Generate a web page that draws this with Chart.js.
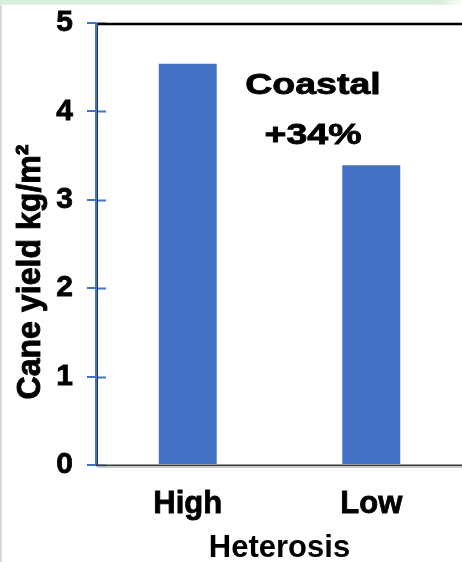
<!DOCTYPE html>
<html>
<head>
<meta charset="utf-8">
<script src="https://cdn.jsdelivr.net/npm/chart.js@4/dist/chart.umd.min.js"></script>
<style>
  html, body { margin: 0; padding: 0; background: #fff; }
  #wrap {
    position: relative; width: 462px; height: 562px; overflow: hidden;
    background:
      linear-gradient(to right, rgba(255,255,255,0) 0, rgba(255,255,255,0) 440px, rgba(255,255,255,0.9) 462px),
      linear-gradient(to bottom, #d6edd6 0, #dff1df 5px, rgba(255,255,255,0) 5px),
      linear-gradient(to right, #cdd6c8 0, #dde6d8 2px, #ffffff 2px);
  }
  canvas { position: absolute; left: 0; top: 0; }
</style>
</head>
<body>
<div id="wrap"><canvas id="c" width="470" height="570"></canvas></div>
<script>
// Cane yield by heterosis group
const categories = ['High', 'Low'];
const caneYield = [4.54, 3.39];
const yTickValues = [0, 1, 2, 3, 4, 5];
const yAxisTitle = 'Cane yield kg/m\u00B2';
const xAxisTitle = 'Heterosis';
const noteTitle = 'Coastal';

const FONT = "'Liberation Sans', Arial, sans-serif";
const BLUE = '#4472C4';
const STROKE = 0.8;

// gain of the high group over the low group, in percent
const gainLabel = '+' + Math.round((caneYield[0] / caneYield[1] - 1) * 100) + '%';

// frame lines, inner tick marks, rotated y title and the note text
const decorations = {
  id: 'decorations',
  afterDraw(chart) {
    const { ctx, chartArea: a } = chart;
    const y = chart.scales.y;
    ctx.save();

    // inner half of the y tick marks
    ctx.strokeStyle = BLUE;
    ctx.lineWidth = 2;
    yTickValues.forEach(v => {
      const py = Math.round(y.getPixelForValue(v)) + 0.5;
      ctx.beginPath();
      ctx.moveTo(a.left, py);
      ctx.lineTo(a.left + 10, py);
      ctx.stroke();
    });

    // dark inner edge of the y axis
    ctx.strokeStyle = '#1f3561';
    ctx.lineWidth = 1;
    ctx.beginPath();
    ctx.moveTo(a.left + 1.5, a.top);
    ctx.lineTo(a.left + 1.5, a.bottom);
    ctx.stroke();

    // top frame line
    ctx.strokeStyle = '#000';
    ctx.lineWidth = 2.5;
    ctx.beginPath();
    ctx.moveTo(a.left + 2, a.top + 1);
    ctx.lineTo(chart.width, a.top + 1);
    ctx.stroke();

    // bottom baseline (dark line with light shadow)
    ctx.strokeStyle = '#3a3a3a';
    ctx.lineWidth = 1.5;
    ctx.beginPath();
    ctx.moveTo(a.left, a.bottom + 0.25);
    ctx.lineTo(chart.width, a.bottom + 0.25);
    ctx.stroke();
    ctx.strokeStyle = '#b8b8b8';
    ctx.lineWidth = 1.5;
    ctx.beginPath();
    ctx.moveTo(a.left + 2, a.bottom + 2);
    ctx.lineTo(chart.width, a.bottom + 2);
    ctx.stroke();

    // y axis title
    ctx.fillStyle = '#000';
    ctx.strokeStyle = '#000';
    ctx.lineWidth = STROKE;
    ctx.font = 'bold 30px ' + FONT;
    ctx.textAlign = 'center';
    ctx.textBaseline = 'middle';
    ctx.save();
    ctx.translate(31, 272);
    ctx.rotate(-Math.PI / 2);
    ctx.scale(1.07, 1.12);
    ctx.fillText(yAxisTitle, 0, 0);
    ctx.strokeText(yAxisTitle, 0, 0);
    ctx.restore();

    // note in the plot area
    ctx.font = 'bold 30px ' + FONT;
    [[noteTitle, 86], [gainLabel, 136]].forEach(([t, ty]) => {
      ctx.save();
      ctx.translate(313, ty);
      ctx.scale(1.25, 1);
      ctx.fillText(t, 0, 0);
      ctx.strokeText(t, 0, 0);
      ctx.restore();
    });

    ctx.restore();
  }
};

new Chart(document.getElementById('c'), {
  type: 'bar',
  data: {
    labels: categories,
    datasets: [{
      data: caneYield,
      backgroundColor: BLUE,
      borderWidth: 0,
      categoryPercentage: 1,
      barPercentage: 0.316
    }]
  },
  options: {
    responsive: false,
    animation: false,
    devicePixelRatio: 1,
    layout: { padding: { left: 0, top: 22, right: 7, bottom: 0 } },
    plugins: { legend: { display: false }, tooltip: { enabled: false } },
    scales: {
      x: {
        offset: true,
        grid: { display: false },
        border: { display: false },
        ticks: {
          color: '#000', font: { family: FONT, weight: 'bold', size: 31 }, padding: 13, maxRotation: 0,
          textStrokeColor: '#000', textStrokeWidth: STROKE
        },
        title: { display: true, text: xAxisTitle, color: '#000', font: { family: FONT, weight: 'bold', size: 31 }, padding: { top: 0, bottom: 3 } },
        afterFit(s) { s.height = 105; }
      },
      y: {
        min: 0, max: 5,
        afterBuildTicks(s) { s.ticks = yTickValues.map(v => ({ value: v })); },
        grid: { drawOnChartArea: false, drawTicks: true, tickLength: 9, color: BLUE, lineWidth: 2 },
        border: { display: true, color: BLUE, width: 2 },
        ticks: {
          color: '#000', font: { family: FONT, weight: 'bold', size: 30, lineHeight: 0.6 }, padding: 14,
          textStrokeColor: '#000', textStrokeWidth: STROKE
        },
        afterFit(s) { s.width = 96; }
      }
    }
  },
  plugins: [decorations]
});
</script>
</body>
</html>
